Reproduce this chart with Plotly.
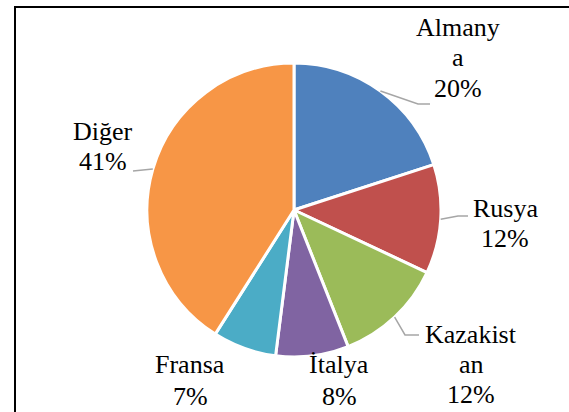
import math
import plotly.graph_objects as go

# ---- data ----
countries = ["Almanya", "Rusya", "Kazakistan", "İtalya", "Fransa", "Diğer"]
shares = [20, 12, 12, 8, 7, 41]
label_lines = [["Almany", "a", "20%"], ["Rusya", "12%"], ["Kazakist", "an", "12%"],
               ["İtalya", "8%"], ["Fransa", "7%"], ["Diğer", "41%"]]
colors = ["#4F81BD", "#C0504D", "#9BBB59", "#8064A2", "#4BACC6", "#F79646"]

W, H = 569, 412
CX, CY, R = 294, 210, 147
FS = 26
FONT = "Liberation Serif, Times New Roman, serif"

# label layout: (center x, first baseline y, line spacing) in pixels
label_pos = [(458, 36, 30.5), (505, 217, 30), (471, 343, 30),
             (339, 373, 32), (190, 373, 32), (103, 140, 30)]
# leader line elbow / end points in pixels (None = no leader)
leaders = [[(418, 104), (430, 104)], [(458, 216), (468, 216)], [(405, 335), (419, 335)],
           None, None, [(133, 171)]]


def px(x):
    return x / W


def py(y):
    return 1 - y / H


fig = go.Figure(go.Pie(
    labels=countries, values=shares, sort=False, direction="clockwise", rotation=0,
    marker=dict(colors=colors, line=dict(color="white", width=3)),
    textinfo="none", hoverinfo="label+percent", showlegend=False,
    domain=dict(x=[px(CX - R), px(CX + R)], y=[py(CY + R), py(CY - R)]),
))

annotations = []
shapes = []
for lines, (lx, ly, sp) in zip(label_lines, label_pos):
    for i, t in enumerate(lines):
        base = ly + i * sp
        annotations.append(dict(
            x=px(lx), y=py(base - 0.33 * FS), xref="paper", yref="paper",
            text=t, showarrow=False, xanchor="center", yanchor="middle",
            font=dict(family=FONT, size=FS, color="black")))

total = sum(shares)
cum = 0
for v, ld in zip(shares, leaders):
    mid = (cum + v / 2) / total * 2 * math.pi
    cum += v
    if ld is None:
        continue
    pts = [(CX + R * math.sin(mid), CY - R * math.cos(mid))] + ld
    path = "M " + " L ".join(f"{px(x):.5f},{py(y):.5f}" for x, y in pts)
    shapes.append(dict(type="path", path=path, xref="paper", yref="paper",
                       line=dict(color="#A6A6A6", width=1.5)))

# chart frame
shapes.append(dict(type="rect", xref="paper", yref="paper",
                   x0=px(15), x1=1.05, y0=-0.05, y1=py(7),
                   line=dict(color="black", width=2), fillcolor="rgba(0,0,0,0)"))

fig.update_layout(width=W, height=H, margin=dict(l=0, r=0, t=0, b=0),
                  paper_bgcolor="white", plot_bgcolor="white",
                  annotations=annotations, shapes=shapes)
fig.write_html("out.html", config={"displayModeBar": False},
               post_script="document.body.style.margin='0';document.body.style.overflow='hidden';")
